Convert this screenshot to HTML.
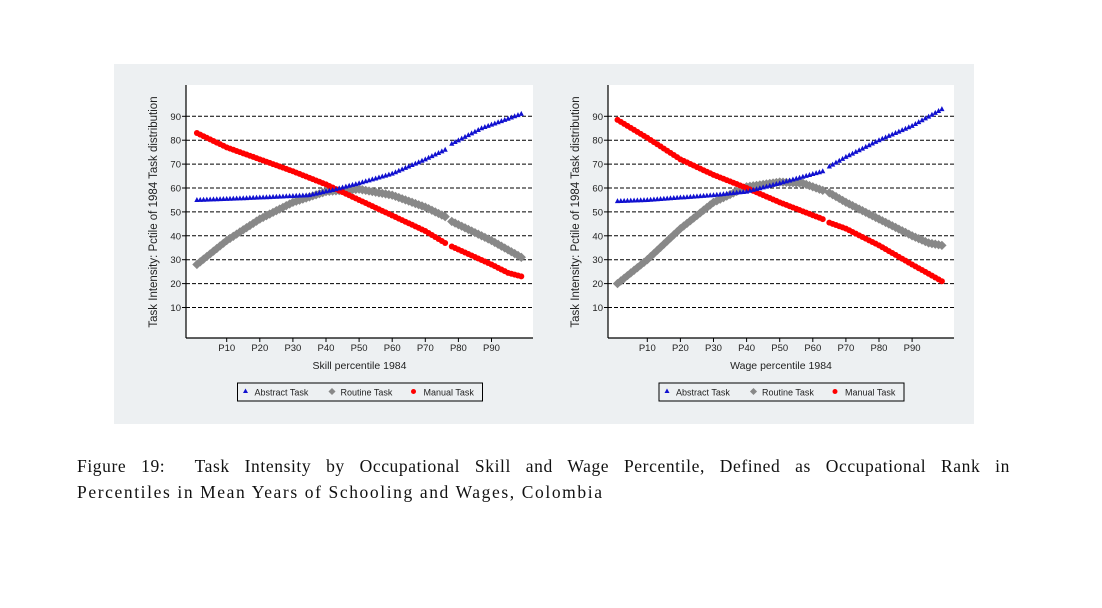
<!DOCTYPE html>
<html><head><meta charset="utf-8"><style>
body{margin:0;background:#fff;width:1102px;height:608px;overflow:hidden;position:relative}
#panel{position:absolute;left:114px;top:64px;width:860px;height:360px;background:#edf0f2}
svg{position:absolute;left:0;top:0}
.cap{position:absolute;left:77px;width:933px;font-family:"Liberation Serif",serif;font-size:17.5px;color:#111;letter-spacing:1.6px}
</style></head><body>
<div id="panel"></div>
<svg id="s" width="1102" height="608" font-family="Liberation Sans, sans-serif"></svg>
<div class="cap" style="top:456px;text-align:justify;text-align-last:justify;letter-spacing:0.6px">Figure 19:&nbsp; Task Intensity by Occupational Skill and Wage Percentile, Defined as Occupational Rank in</div>
<div class="cap" style="top:482px">Percentiles in Mean Years of Schooling and Wages, Colombia</div>
<script>
const s=document.getElementById('s');let h='';
function interp(pts,p){for(let i=0;i<pts.length-1;i++){const[a,b]=[pts[i],pts[i+1]];if(p>=a[0]&&p<=b[0]){const t=(p-a[0])/(b[0]-a[0]);return a[1]+t*(b[1]-a[1]);}}return pts[pts.length-1][1];}
function chart(L,R,P10,xlabel,gap,ab,ro,ma){
 const T=85,B=338,Y=v=>116.3+(90-v)*2.39,X=p=>P10+(p-10)*3.31;
 h+=`<rect x="${L}" y="${T}" width="${R-L}" height="${B-T}" fill="#fff"/>`;
 for(let v=10;v<=90;v+=10){const y=Y(v);h+=`<line x1="${L}" x2="${R}" y1="${y}" y2="${y}" stroke="#000" stroke-width="1" stroke-dasharray="4,2"/><line x1="${L-4}" x2="${L}" y1="${y}" y2="${y}" stroke="#000"/><text x="${L-5}" y="${y+3.5}" font-size="9.5" text-anchor="end" fill="#222">${v}</text>`;}
 for(let p=10;p<=90;p+=10){const x=X(p);h+=`<line x1="${x}" x2="${x}" y1="${B}" y2="${B+4}" stroke="#000"/><text x="${x}" y="${B+13}" font-size="9.5" text-anchor="middle" fill="#222">P${p}</text>`;}
 h+=`<line x1="${L}" x2="${L}" y1="${T}" y2="${B}" stroke="#000" stroke-width="1.2"/><line x1="${L}" x2="${R}" y1="${B}" y2="${B}" stroke="#000" stroke-width="1.2"/>`;
 h+=`<text x="${(L+R)/2}" y="${B+31}" font-size="10.5" text-anchor="middle" fill="#222">${xlabel}</text>`;
 h+=`<text transform="translate(${L-29},212) rotate(-90)" font-size="11.5" text-anchor="middle" fill="#222">Task Intensity: Pctile of 1984 Task distribution</text>`;
 for(let p=1;p<=99;p++){if(p==gap)continue;const x=X(p),y=Y(interp(ro,p));h+=`<rect x="${x-3.3}" y="${y-3.3}" width="6.6" height="6.6" fill="#888" transform="rotate(45 ${x} ${y})"/>`;}
 for(let p=1;p<=99;p++){if(p==gap)continue;const x=X(p),y=Y(interp(ma,p));h+=`<circle cx="${x}" cy="${y}" r="3" fill="#f00"/>`;}
 for(let p=1;p<=99;p++){if(p==gap)continue;const x=X(p),y=Y(interp(ab,p));h+=`<polygon points="${x},${y-3} ${x-2.6},${y+2} ${x+2.6},${y+2}" fill="#1010d0"/>`;}
 const lx=(L+R)/2-122,ly=383;
 h+=`<rect x="${lx}" y="${ly}" width="245" height="18" fill="#edf0f2" stroke="#000"/>`;
 h+=`<polygon points="${lx+8},${ly+5.5} ${lx+5.5},${ly+10} ${lx+10.5},${ly+10}" fill="#1010d0"/><text x="${lx+17}" y="${ly+12.5}" font-size="9" fill="#222">Abstract Task</text>`;
 h+=`<rect x="${lx+92}" y="${ly+6}" width="5" height="5" fill="#888" transform="rotate(45 ${lx+94.5} ${ly+8.5})"/><text x="${lx+103}" y="${ly+12.5}" font-size="9" fill="#222">Routine Task</text>`;
 h+=`<circle cx="${lx+176}" cy="${ly+8.5}" r="2.5" fill="#f00"/><text x="${lx+186}" y="${ly+12.5}" font-size="9" fill="#222">Manual Task</text>`;
}
chart(186,533,226.7,'Skill percentile 1984',77,
 [[1,55],[20,56],[35,57],[43,59.5],[50,62],[60,66],[70,72],[76,76],[78,78.5],[87,85],[99,91]],
 [[1,28],[10,38],[20,47],[30,54],[40,58.5],[50,59.5],[60,57],[70,52],[76,48],[78,46],[90,38],[99,31]],
 [[1,83],[10,77],[20,72],[30,67],[40,61.5],[50,55],[60,48.5],[70,42],[76,37],[78,35.5],[90,28],[95,24.5],[99,23]]);
chart(608,954,647.3,'Wage percentile 1984',64,
 [[1,54.5],[10,55],[20,56],[30,57],[40,58.5],[50,62],[63,67],[65,69],[70,73],[80,80],[90,86],[99,93]],
 [[1,20],[10,30],[20,43],[30,54],[40,60.5],[50,62.5],[57,62],[63,59],[65,58],[70,54],[80,47],[90,40],[95,37],[99,36]],
 [[1,88.5],[10,81],[20,72],[30,65.5],[40,60],[50,54],[63,47],[65,45.5],[70,43],[80,36],[90,28],[99,21]]);
s.innerHTML=h;
</script>
</body></html>
